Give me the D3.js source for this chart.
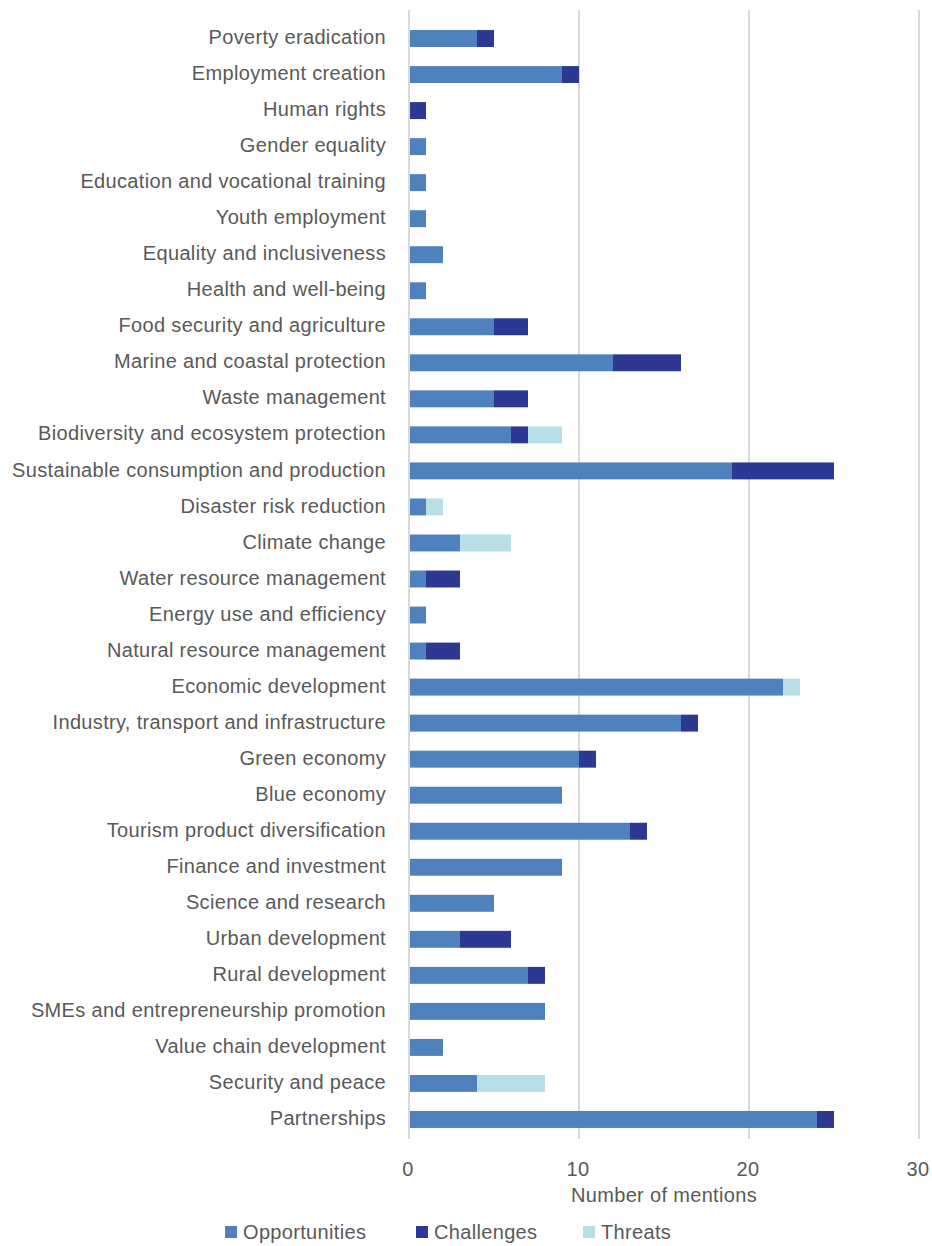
<!DOCTYPE html>
<html><head><meta charset="utf-8">
<script src="https://cdn.jsdelivr.net/npm/d3@7"></script>
<style>body{margin:0;background:#fff}svg{display:block}text{font-family:"Liberation Sans",Arial,sans-serif;fill:#595959;letter-spacing:0.33px}</style>
</head><body><svg id="c" width="932" height="1246"></svg>
<script>
const categories = ["Poverty eradication","Employment creation","Human rights","Gender equality","Education and vocational training","Youth employment","Equality and inclusiveness","Health and well-being","Food security and agriculture","Marine and coastal protection","Waste management","Biodiversity and ecosystem protection","Sustainable consumption and production","Disaster risk reduction","Climate change","Water resource management","Energy use and efficiency","Natural resource management","Economic development","Industry, transport and infrastructure","Green economy","Blue economy","Tourism product diversification","Finance and investment","Science and research","Urban development","Rural development","SMEs and entrepreneurship promotion","Value chain development","Security and peace","Partnerships"];
const opportunities = [4,9,0,1,1,1,2,1,5,12,5,6,19,1,3,1,1,1,22,16,10,9,13,9,5,3,7,8,2,4,24];
const challenges    = [1,1,1,0,0,0,0,0,2,4,2,1,6,0,0,2,0,2,0,1,1,0,1,0,0,3,1,0,0,0,1];
const threats       = [0,0,0,0,0,0,0,0,0,0,0,2,0,1,3,0,0,0,1,0,0,0,0,0,0,0,0,0,0,4,0];
const seriesNames = ["Opportunities","Challenges","Threats"];
const colors = ["#4f81bd","#2c3891","#b8dfe6"];
const xTicks = [0,10,20,30];
const xTitle = "Number of mentions";

const svg = d3.select("#c");
const x = d3.scaleLinear().domain([0,30]).range([409,919]);
const y = d3.scaleBand().domain(categories).range([20.5,1137.5]).paddingInner(0.53).paddingOuter(0.265);

const rows = categories.map((c,i)=>({cat:c, Opportunities:opportunities[i], Challenges:challenges[i], Threats:threats[i]}));
const stack = d3.stack().keys(seriesNames)(rows);

// gridlines
svg.append("g").selectAll("line").data(xTicks).join("line")
  .attr("x1",d=>x(d)).attr("x2",d=>x(d)).attr("y1",10).attr("y2",1139)
  .attr("stroke","#d9d9d9").attr("stroke-width",2);

// bars
svg.append("g").selectAll("g").data(stack).join("g").attr("fill",(d,i)=>colors[i])
  .selectAll("rect").data(d=>d.filter(p=>p[1]-p[0]>0)).join("rect")
  .attr("x",d=>d[0]===0 ? x(0)+1 : x(d[0]))
  .attr("width",d=>x(d[1])-(d[0]===0 ? x(0)+1 : x(d[0])))
  .attr("y",d=>y(d.data.cat)).attr("height",y.bandwidth());

// category labels
svg.append("g").selectAll("text").data(categories).join("text")
  .attr("x",386).attr("y",d=>y(d)+y.bandwidth()/2).attr("dy","0.28em")
  .attr("text-anchor","end").attr("font-size",20).text(d=>d);

// x tick labels
svg.append("g").selectAll("text").data(xTicks).join("text")
  .attr("x",d=>x(d)-1).attr("y",1176).attr("text-anchor","middle").attr("font-size",20).text(d=>d);

svg.append("text").attr("x",(x(0)+x(30))/2).attr("y",1202).attr("text-anchor","middle").attr("font-size",20).text(xTitle);

// legend
const legX = [225,416,583];
const lg = svg.append("g").selectAll("g").data(seriesNames).join("g")
  .attr("transform",(d,i)=>`translate(${legX[i]},1226)`);
lg.append("rect").attr("width",12).attr("height",12).attr("fill",(d,i)=>colors[i]);
lg.append("text").attr("x",18).attr("y",6).attr("dy","0.33em").attr("font-size",20).text(d=>d);
</script></body></html>
